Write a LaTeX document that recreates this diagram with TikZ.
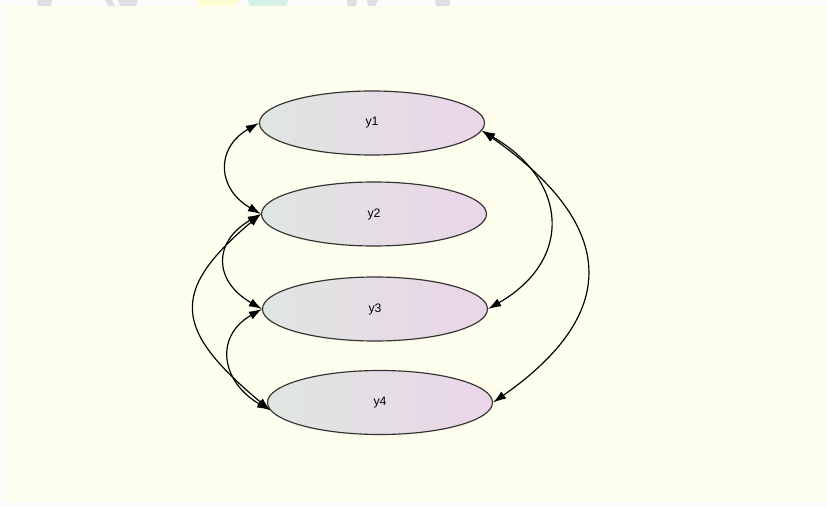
\documentclass[tikz,border=0pt]{standalone}
\usepackage{fontspec}
\setmainfont{Liberation Sans}
\usetikzlibrary{arrows.meta,shapes.geometric}

\definecolor{pagebg}{HTML}{FCFCFC}
\definecolor{canvasbg}{HTML}{FDFEEE}
\definecolor{leftfill}{HTML}{DFE6E1}
\definecolor{rightfill}{HTML}{EBD5E9}
\definecolor{markgrey}{HTML}{DCE0E5}
\definecolor{markyellow}{HTML}{FCFDD3}
\definecolor{markteal}{HTML}{D6F0E4}

\begin{document}
\begin{tikzpicture}[
        x=0.03cm, y=-0.03cm,
        var/.style={ellipse, draw=black!80, line width=1pt, inner sep=0pt,
            minimum width=6.75cm, minimum height=1.92cm,
            left color=leftfill, right color=rightfill,
            font=\fontsize{10.5}{12}\selectfont},
        cov/.style={<->, >={Latex[length=3.9mm,width=2.6mm]}, line width=1pt}
    ]
        % page and canvas
        \fill[pagebg] (0,0) rectangle (826,507);
        \fill[canvasbg] (5,6) rectangle (826,502);

        % bits of the watermark above the canvas
        \fill[markgrey] (37,0) -- (52,0) -- (51,6) -- (38,6) -- cycle;
        \fill[markgrey] (105,0) -- (112,0) -- (115,6) -- (108,6) -- cycle;
        \fill[markgrey] (118,0) -- (138,0) -- (136,6) -- (120,6) -- cycle;
        \fill[markyellow] (197,0) -- (240,0) -- (236,6) -- (200,6) -- cycle;
        \fill[markteal] (247,0) -- (289,0) -- (286,6) -- (250,6) -- cycle;
        \fill[markgrey] (347,0) -- (357,0) -- (356,6) -- (347,6) -- cycle;
        \fill[markgrey] (367,0) -- (378,0) -- (375,6) -- (368,6) -- cycle;
        \fill[markgrey] (435,0) -- (450,0) -- (450,6) -- (436,6) -- cycle;

        \node[var] (y1) at (372,123) {y1};
        \node[var] (y2) at (374,214) {y2};
        \node[var] (y3) at (375,309) {y3};
        \node[var] (y4) at (380,402.5) {y4};

        \draw[cov] (y1.west) to[out=210, in=150, looseness=1.42] (y2.west);
        \draw[cov] (y2.west) to[out=210, in=150, looseness=1.5] (y3.west);
        \draw[cov] (y2.west) to[out=220, in=140, looseness=1.6] (y4.184);
        \draw[cov] (y3.west) to[out=210, in=150, looseness=1.41] (y4.184);
        \draw[cov] (y1.356) to[out=-30, in=30, looseness=1.42] (y3.east);
        \draw[cov] (y1.356) to[out=-35, in=35, looseness=1.51] (y4.east);
    \end{tikzpicture}
\end{document}
